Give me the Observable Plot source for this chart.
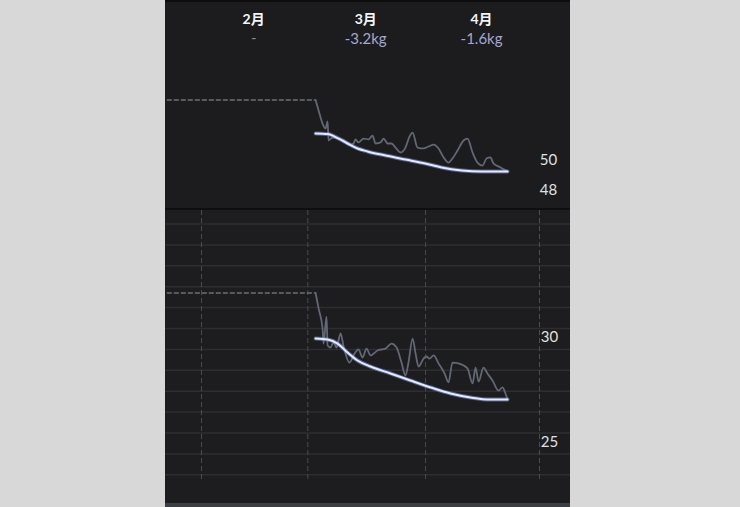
<!DOCTYPE html>
<html>
<head>
<meta charset="utf-8">
<script src="https://cdn.jsdelivr.net/npm/d3@7"></script>
<script src="https://cdn.jsdelivr.net/npm/@observablehq/plot@0.6"></script>
<style>
  html, body { margin: 0; padding: 0; background: #d8d8d8; width: 740px; height: 507px; overflow: hidden; }
  #panel { position: absolute; left: 165px; top: 0; width: 405px; height: 507px; background: #1c1c1e; }
  #topline { position: absolute; left: 0; top: 0; width: 405px; height: 2px; background: #0d0d0e; }
  .sep { width: 405px; height: 2px; background: #0f0f10; }
  .foot { width: 405px; height: 4px; background: #3b3e45; }
  svg { display: block; }
</style>
</head>
<body>
<div id="panel">
  <div id="topChart"></div>
  <div class="sep"></div>
  <div id="bottomChart"></div>
  <div class="foot"></div>
  <div id="topline"></div>
</div>
<script>
// ---- data ----
const months = ["2月", "3月", "4月"];
const monthChanges = ["-", "-3.2kg", "-1.6kg"];
const monthStarts = ["02-01 00", "03-01 00", "04-01 00", "05-01 00"];
const weightTicks = [48, 50];
const fatTicks = [25, 30];
const fatGrid = [23, 24, 25, 26, 27, 28, 29, 30, 31, 32, 33, 34, 35];
const prevStart = "01-23 00";
const prevWeight = 53.4;
const prevFat = 31.7;

const weightRawDates = ["03-03 01","03-03 20","03-04 21","03-05 16","03-06 05","03-06 11","03-07 12","03-09 15","03-11 11","03-12 12","03-13 01","03-13 13","03-14 08","03-15 16","03-17 00","03-18 01","03-18 20","03-20 04","03-20 23","03-22 00","03-23 01","03-24 02","03-25 10","03-26 17","03-27 19","03-28 14","03-29 21","03-31 11","04-01 19","04-03 03","04-04 10","04-05 18","04-07 01","04-08 02","04-09 10","04-11 00","04-12 01","04-13 09","04-14 16","04-16 00","04-17 01","04-18 02","04-18 21","04-20 18","04-22 14"];
const weightRawValues = [53.4,52.7,51.83,51.5,51.97,50.7,50.9,50.83,50.57,50.43,50.5,50.77,50.57,50.83,50.77,51.03,50.5,50.57,50.83,50.5,50.5,50.23,49.9,50.23,50.97,51.23,50.23,50.17,50.3,50.43,50.17,49.57,49.23,49.5,50.03,50.7,50.83,49.9,49.23,49.03,49.5,49.57,49.17,48.9,48.63];

const weightTrendDates = ["03-03 01","03-06 05","03-09 02","03-11 11","03-14 02","03-16 17","03-21 11","03-26 17","03-31 22","04-05 06","04-10 13","04-15 19","04-22 14"];
const weightTrendValues = [51.17,51.13,50.83,50.5,50.17,49.97,49.7,49.43,49.17,48.9,48.7,48.63,48.63];

const fatRawDates = ["03-03 01","03-03 20","03-04 21","03-05 03","03-05 22","03-06 05","03-06 23","03-07 18","03-08 13","03-09 15","03-10 10","03-11 23","03-13 07","03-14 08","03-15 10","03-16 11","03-17 12","03-19 08","03-21 11","03-23 01","03-24 09","03-25 16","03-26 17","03-27 12","03-28 14","03-29 09","03-30 04","03-31 11","04-01 06","04-02 01","04-03 03","04-04 10","04-06 00","04-07 01","04-08 02","04-09 16","04-12 01","04-13 09","04-14 04","04-14 23","04-16 06","04-17 07","04-18 15","04-20 05","04-21 06","04-22 01","04-22 14"];
const fatRawValues = [31.7,30.96,30.0,29.28,30.57,29.19,29.09,29.33,29.09,29.76,29.14,28.37,28.8,29.0,28.61,29.04,28.71,28.95,29.04,29.28,29.09,28.37,27.75,28.37,29.52,28.8,28.18,28.56,28.66,28.56,28.71,28.33,27.85,27.42,28.37,28.33,28.09,27.37,28.13,27.46,28.13,27.85,27.51,27.03,27.18,26.89,26.6];

const fatTrendDates = ["03-03 01","03-06 05","03-08 20","03-11 11","03-14 02","03-17 12","03-22 18","03-28 01","04-02 08","04-07 14","04-12 20","04-18 02","04-22 14"];
const fatTrendValues = [29.52,29.47,29.28,28.85,28.47,28.18,27.85,27.51,27.18,26.89,26.7,26.6,26.6];

// ---- helpers ----
const parseT = s => new Date("2023-" + s.replace(" ", "T") + ":00Z");
const series = (dates, values) => dates.map((d, i) => ({date: parseT(d), value: values[i]}));

const starts = monthStarts.map(parseT);
const monthData = months.map((m, i) => ({
  label: m,
  change: monthChanges[i],
  mid: new Date((+starts[i] + +starts[i + 1]) / 2)
}));

const weightRaw = series(weightRawDates, weightRawValues);
const weightTrend = series(weightTrendDates, weightTrendValues);
const fatRaw = series(fatRawDates, fatRawValues);
const fatTrend = series(fatTrendDates, fatTrendValues);
const weightPrev = [{date: parseT(prevStart), value: prevWeight}, {date: weightRaw[0].date, value: prevWeight}];
const fatPrev = [{date: parseT(prevStart), value: prevFat}, {date: fatRaw[0].date, value: prevFat}];

const FONT = "Lato, 'Noto Sans CJK SC', sans-serif";
const xScale = {type: "utc", domain: [starts[0], starts[3]], range: [36, 374], axis: null};
const RAW = "#636775", GLOW = "#8396d6", CORE = "#e3e9ff";

// ---- top chart (weight) ----
const weightChart = Plot.plot({
  width: 405, height: 208,
  marginTop: 0, marginBottom: 0, marginLeft: 0, marginRight: 0,
  style: {background: "transparent", fontFamily: FONT},
  x: xScale,
  y: {domain: [48, 50], range: [180.5, 150.5], axis: null},
  marks: [
    Plot.text(monthData, {x: "mid", text: "label", frameAnchor: "top", lineAnchor: "middle", dx: -1, dy: 19, fill: "#f4f4f4", fontWeight: "bold", fontSize: 14}),
    Plot.text(monthData.filter(d => d.change === "-"), {x: "mid", text: "change", frameAnchor: "top", lineAnchor: "middle", dx: -1, dy: 38, fill: "#8a8a8e", fontSize: 15}),
    Plot.text(monthData.filter(d => d.change !== "-"), {x: "mid", text: "change", frameAnchor: "top", lineAnchor: "middle", dx: -1, dy: 39, fill: "#a2a8d4", fontSize: 15}),
    Plot.line(weightPrev, {x: "date", y: "value", stroke: "#6c6f78", strokeWidth: 1.5, strokeDasharray: "4,3"}),
    Plot.line(weightRaw, {x: "date", y: "value", stroke: RAW, strokeWidth: 1.8, curve: "monotone-x"}),
    Plot.line(weightTrend, {x: "date", y: "value", stroke: GLOW, strokeWidth: 4, strokeOpacity: 0.55, curve: "monotone-x"}),
    Plot.line(weightTrend, {x: "date", y: "value", stroke: CORE, strokeWidth: 2, curve: "monotone-x"}),
    Plot.text(weightTicks, {y: d => d, text: d => String(d), frameAnchor: "right", dx: -22, dy: 9, textAnchor: "middle", fill: "#e0e0e0", fontSize: 15})
  ]
});
document.getElementById("topChart").appendChild(weightChart);

// ---- bottom chart (second measure) ----
const fatChart = Plot.plot({
  width: 405, height: 293,
  marginTop: 0, marginBottom: 21, marginLeft: 0, marginRight: 0,
  style: {background: "#1d1d1f", fontFamily: FONT},
  x: xScale,
  y: {domain: [25, 30], range: [222.5, 118], axis: null},
  marks: [
    Plot.ruleY(fatGrid, {stroke: "#2e2e31", strokeWidth: 1.5}),
    Plot.ruleX(starts, {stroke: "#4a4a4f", strokeWidth: 1, strokeDasharray: "5,3"}),
    Plot.line(fatPrev, {x: "date", y: "value", stroke: "#6c6f78", strokeWidth: 1.5, strokeDasharray: "4,3"}),
    Plot.line(fatRaw, {x: "date", y: "value", stroke: RAW, strokeWidth: 1.8, curve: "monotone-x"}),
    Plot.line(fatTrend, {x: "date", y: "value", stroke: GLOW, strokeWidth: 4, strokeOpacity: 0.55, curve: "monotone-x"}),
    Plot.line(fatTrend, {x: "date", y: "value", stroke: CORE, strokeWidth: 2, curve: "monotone-x"}),
    Plot.text(fatTicks, {y: d => d, text: d => String(d), frameAnchor: "right", dx: -21, dy: 9, textAnchor: "middle", fill: "#e0e0e0", fontSize: 15})
  ]
});
document.getElementById("bottomChart").appendChild(fatChart);
</script>
</body>
</html>
